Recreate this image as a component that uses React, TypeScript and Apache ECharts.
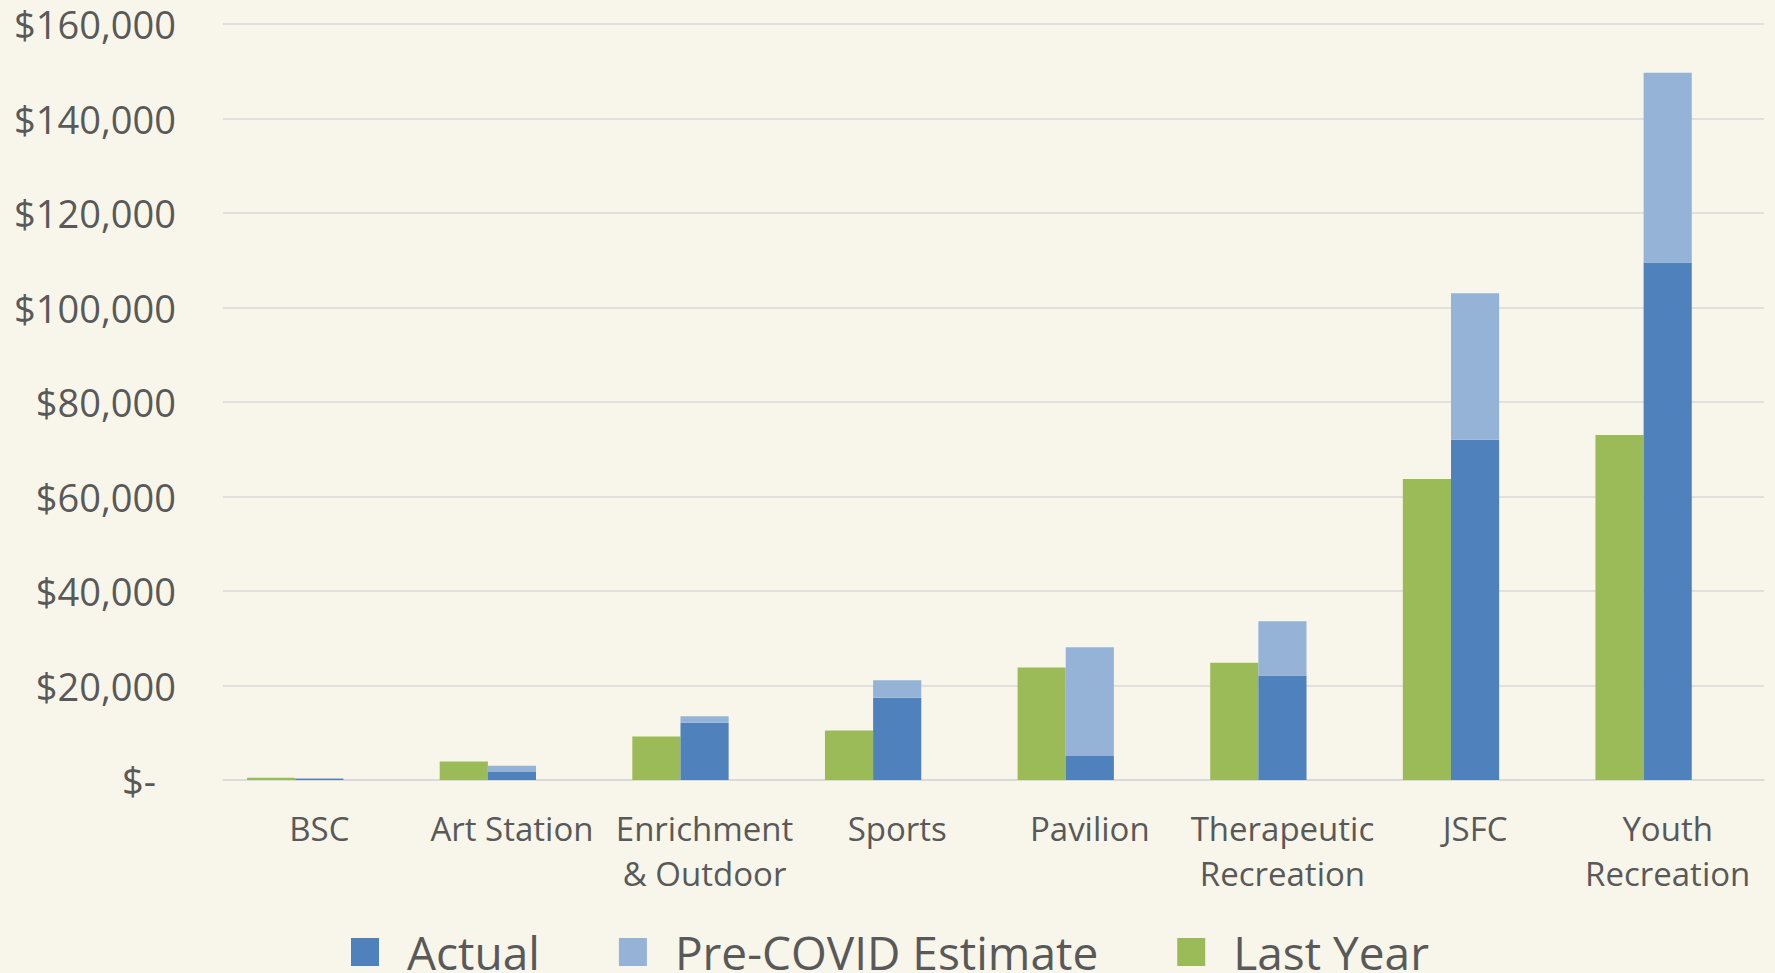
import React, { useEffect, useRef } from "react";
import * as echarts from "echarts";

const categories = [
  "BSC",
  "Art Station",
  "Enrichment\n& Outdoor",
  "Sports",
  "Pavilion",
  "Therapeutic\nRecreation",
  "JSFC",
  "Youth\nRecreation",
];
const lastYear = [500, 3900, 9200, 10500, 23800, 24800, 63700, 73000];
const actual = [200, 1700, 12100, 17400, 5100, 22100, 72000, 109500];
const preCovidEstimate = [350, 3000, 13500, 21100, 28100, 33600, 103000, 149700];
const yTicks = { min: 0, max: 160000, interval: 20000 };

const FONT = "'Open Sans', 'Noto Sans', sans-serif";
const TEXT = "#595959";

export default function App() {
  const ref = useRef<HTMLDivElement>(null);
  useEffect(() => {
    document.body.style.margin = "0";
    if (!ref.current) return;
    const chart = echarts.init(ref.current, undefined, { renderer: "svg" });
    const estimateExtra = preCovidEstimate.map((v, i) => Math.max(0, v - actual[i]));
    chart.setOption({
      animation: false,
      backgroundColor: "#F8F6EA",
      textStyle: { fontFamily: FONT },
      grid: { left: 223, right: 11, top: 24, bottom: 193, containLabel: false },
      legend: {
        data: ["Actual", "Pre-COVID Estimate", "Last Year"],
        left: 346,
        top: 924,
        itemWidth: 28,
        itemHeight: 28,
        itemGap: 79,
        icon: "rect",
        textStyle: {
          fontFamily: FONT,
          fontSize: 46,
          lineHeight: 40,
          color: TEXT,
          padding: [0, 0, 0, 23],
        },
      },
      xAxis: {
        type: "category",
        data: categories,
        axisLine: { show: true, lineStyle: { color: "#D9D9D9", width: 1.5 } },
        axisTick: { show: false },
        axisLabel: {
          interval: 0,
          margin: 26,
          fontFamily: FONT,
          fontSize: 33,
          lineHeight: 45,
          color: TEXT,
        },
      },
      yAxis: {
        type: "value",
        min: yTicks.min,
        max: yTicks.max,
        interval: yTicks.interval,
        axisLine: { show: false },
        axisTick: { show: false },
        splitLine: { lineStyle: { color: "#D9D9D9", width: 1.5 } },
        axisLabel: {
          margin: 47,
          fontFamily: FONT,
          fontSize: 38,
          lineHeight: 38,
          color: TEXT,
          formatter: (v: number) =>
            v === 0 ? "{z|$-}" : "$" + v.toLocaleString("en-US"),
          rich: {
            z: {
              fontFamily: FONT,
              fontSize: 38,
              lineHeight: 38,
              color: TEXT,
              padding: [0, 20, 0, 0],
            },
          },
        },
      },
      series: [
        {
          name: "Last Year",
          type: "bar",
          data: lastYear,
          barGap: "0%",
          barCategoryGap: "25%",
          itemStyle: { color: "#9BBB59" },
        },
        {
          name: "Actual",
          type: "bar",
          stack: "est",
          data: actual,
          itemStyle: { color: "#4F81BD" },
        },
        {
          name: "Pre-COVID Estimate",
          type: "bar",
          stack: "est",
          data: estimateExtra,
          itemStyle: { color: "#95B3D7" },
        },
        {
          name: "_empty",
          type: "bar",
          data: categories.map(() => null),
        },
      ],
    });
    return () => chart.dispose();
  }, []);
  return <div ref={ref} style={{ width: 1775, height: 973 }} />;
}
